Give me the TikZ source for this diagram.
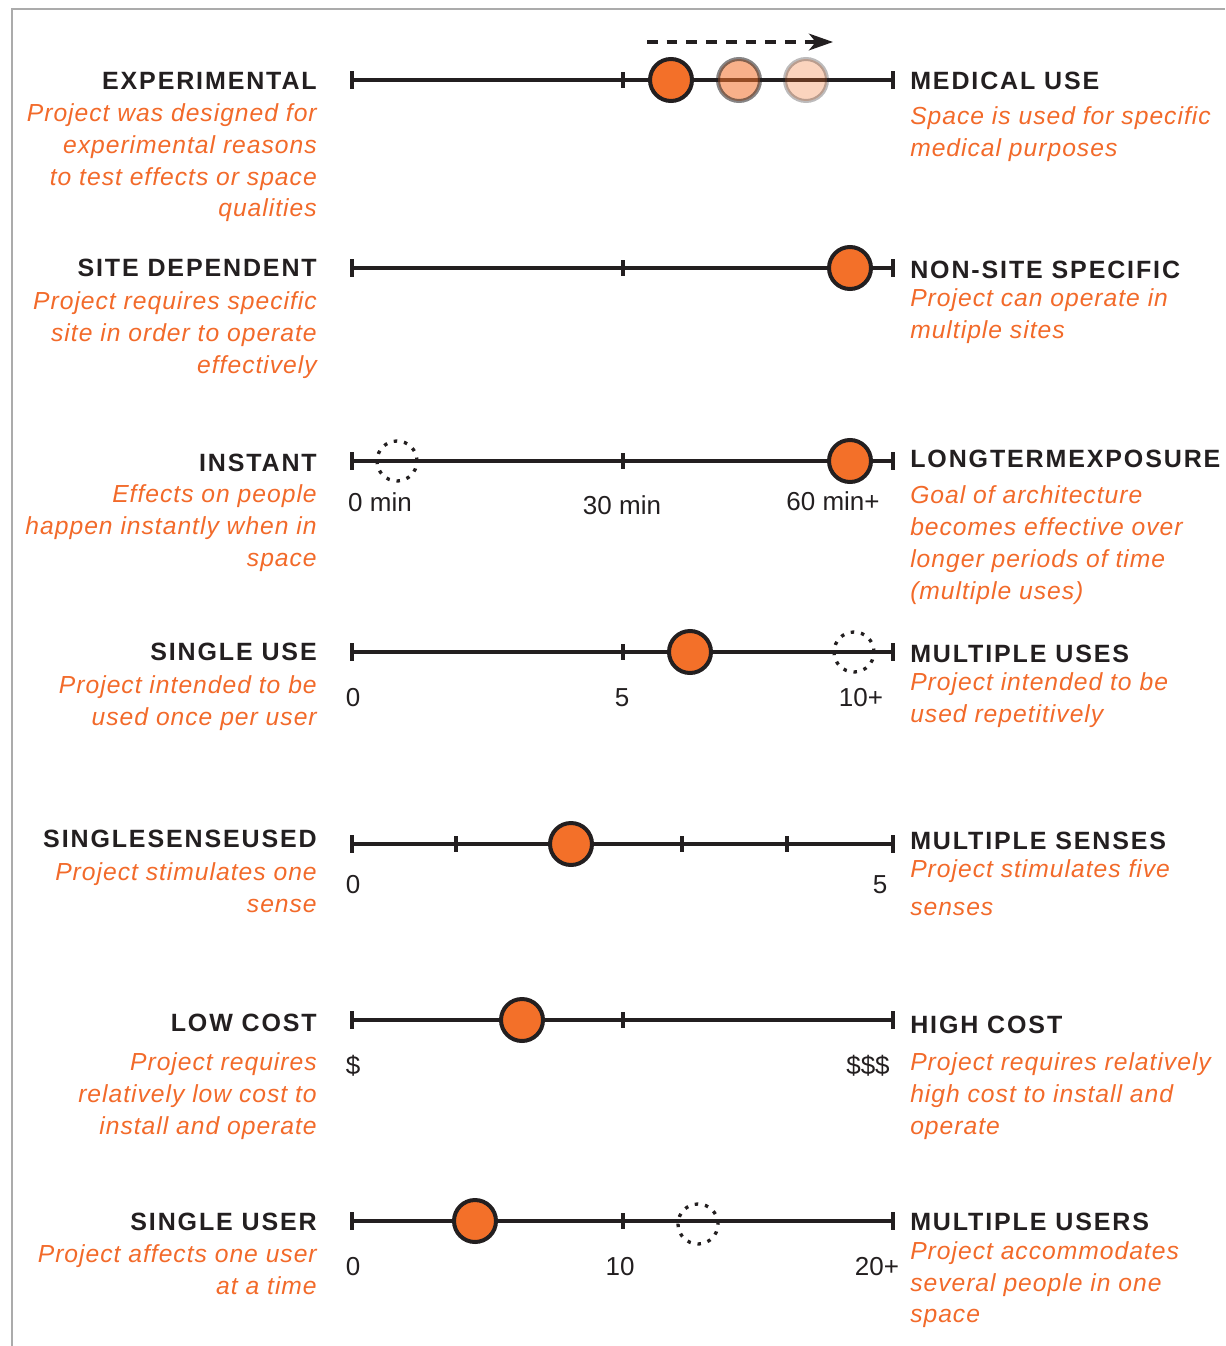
\documentclass[tikz,border=0pt]{standalone}
\usepackage{fontspec}
\setmainfont{Liberation Sans}
\newfontfamily\headfont{Liberation Sans}[LetterSpace=7.5]
\newfontfamily\descfont{Liberation Sans}[LetterSpace=4]
\usetikzlibrary{arrows.meta}
\definecolor{ink}{HTML}{231F20}
\definecolor{orng}{HTML}{F26A2A}
\definecolor{dotfill}{HTML}{F37029}
\definecolor{frame}{HTML}{ABABAB}
\tikzset{
  head/.style={font=\headfont\bfseries\fontsize{18.75}{22}\selectfont, text=ink, inner sep=0pt},
  hl/.style={head, anchor=base east},
  hr/.style={head, anchor=base west},
  desc/.style={font=\descfont\itshape\fontsize{18.5}{22}\selectfont, text=orng, inner sep=0pt},
  dl/.style={desc, anchor=base east},
  dr/.style={desc, anchor=base west},
  num/.style={font=\fontsize{19.5}{23}\selectfont, text=ink, inner sep=0pt, anchor=base},
  scaleline/.style={draw=ink, line width=3.3pt},
  endbar/.style={draw=ink, line width=3.2pt},
  midtick/.style={draw=ink, line width=2.8pt},
  dot/.style={circle, draw=ink, fill=dotfill, line width=3pt, minimum size=31.5pt, inner sep=0pt},
  ghost/.style={dot, opacity=#1},
  ring/.style={circle, draw=ink, line width=2.5pt, dash pattern=on 2.6pt off 5.2pt, minimum size=30pt, inner sep=0pt},
  frameline/.style={draw=frame, line width=1.2pt}
}
\begin{document}
\begin{tikzpicture}[x=0.75pt, y=-0.75pt]
\useasboundingbox (0,0) rectangle (1225,1346);
\draw[frameline] (12,1346) -- (12,9) -- (1225,9);

% Row 1
\coordinate (a1) at (352,80); \coordinate (b1) at (893,80);
\draw[scaleline] (a1) -- (b1);
\draw[endbar] (352,71) -- (352,89); \draw[endbar] (893,71) -- (893,89);
\draw[midtick] (623,72) -- (623,88);
\node[ghost=0.3] (g2) at (806,80) {};
\node[ghost=0.55] (g1) at (739,80) {};
\node[dot] (c1) at (671,80) {};
\coordinate (arS) at (647,42); \coordinate (arE) at (833,42);
\draw[ink, line width=2.4pt, dash pattern=on 8pt off 6.8pt, -{Stealth[length=18pt, width=12.5pt, inset=5pt]}] (arS) -- (arE);
\node[hl] (h1l) at (317,89) {EXPERIMENTAL};
\node[dl] (d1l1) at (317,121) {Project was designed for};
\node[dl] (d1l2) at (317,153) {experimental reasons};
\node[dl] (d1l3) at (317,185) {to test effects or space};
\node[dl] (d1l4) at (317,216) {qualities};
\node[hr] (h1r) at (910,89) {MEDICAL USE};
\node[dr] (d1r1) at (910,124) {Space is used for specific};
\node[dr] (d1r2) at (910,156) {medical purposes};

% Row 2
\coordinate (a2) at (352,268); \coordinate (b2) at (893,268);
\draw[scaleline] (a2) -- (b2);
\draw[endbar] (352,259) -- (352,277); \draw[endbar] (893,259) -- (893,277);
\draw[midtick] (623,260) -- (623,276);
\node[dot] (c2) at (850,268) {};
\node[hl] (h2l) at (317,276) {SITE DEPENDENT};
\node[dl] (d2l1) at (317,309) {Project requires specific};
\node[dl] (d2l2) at (317,341) {site in order to operate};
\node[dl] (d2l3) at (317,373) {effectively};
\node[hr] (h2r) at (910,278) {NON-SITE SPECIFIC};
\node[dr] (d2r1) at (910,306) {Project can operate in};
\node[dr] (d2r2) at (910,338) {multiple sites};

% Row 3
\coordinate (a3) at (352,461); \coordinate (b3) at (893,461);
\draw[scaleline] (a3) -- (b3);
\draw[endbar] (352,452) -- (352,470); \draw[endbar] (893,452) -- (893,470);
\draw[midtick] (623,453) -- (623,469);
\node[ring] (r3) at (397,461) {};
\node[dot] (c3) at (850,461) {};
\node[num] (n3a) at (380,511) {0 min};
\node[num] (n3b) at (622,514) {30 min};
\node[num] (n3c) at (833,510) {60 min+};
\node[hl] (h3l) at (317,471) {INSTANT};
\node[dl] (d3l1) at (317,502) {Effects on people};
\node[dl] (d3l2) at (317,534) {happen instantly when in};
\node[dl] (d3l3) at (317,566) {space};
\node[hr] (h3r) at (910,467) {LONGTERMEXPOSURE};
\node[dr] (d3r1) at (910,503) {Goal of architecture};
\node[dr] (d3r2) at (910,535) {becomes effective over};
\node[dr] (d3r3) at (910,567) {longer periods of time};
\node[dr] (d3r4) at (910,599) {(multiple uses)};

% Row 4
\coordinate (a4) at (352,652); \coordinate (b4) at (893,652);
\draw[scaleline] (a4) -- (b4);
\draw[endbar] (352,643) -- (352,661); \draw[endbar] (893,643) -- (893,661);
\draw[midtick] (623,644) -- (623,660);
\node[ring] (r4) at (854,652) {};
\node[dot] (c4) at (690,652) {};
\node[num] (n4a) at (353,706) {0};
\node[num] (n4b) at (622,706) {5};
\node[num] (n4c) at (861,706) {10+};
\node[hl] (h4l) at (317,660) {SINGLE USE};
\node[dl] (d4l1) at (317,693) {Project intended to be};
\node[dl] (d4l2) at (317,725) {used once per user};
\node[hr] (h4r) at (910,662) {MULTIPLE USES};
\node[dr] (d4r1) at (910,690) {Project intended to be};
\node[dr] (d4r2) at (910,722) {used repetitively};

% Row 5
\coordinate (a5) at (352,844); \coordinate (b5) at (893,844);
\draw[scaleline] (a5) -- (b5);
\draw[endbar] (352,835) -- (352,853); \draw[endbar] (893,835) -- (893,853);
\draw[midtick] (456,836) -- (456,852);
\draw[midtick] (569,836) -- (569,852);
\draw[midtick] (682,836) -- (682,852);
\draw[midtick] (787,836) -- (787,852);
\node[dot] (c5) at (571,844) {};
\node[num] (n5a) at (353,893) {0};
\node[num] (n5b) at (880,893) {5};
\node[hl] (h5l) at (317,847) {SINGLESENSEUSED};
\node[dl] (d5l1) at (317,880) {Project stimulates one};
\node[dl] (d5l2) at (317,912) {sense};
\node[hr] (h5r) at (910,849) {MULTIPLE SENSES};
\node[dr] (d5r1) at (910,877) {Project stimulates five};
\node[dr] (d5r2) at (910,915) {senses};

% Row 6
\coordinate (a6) at (352,1020); \coordinate (b6) at (893,1020);
\draw[scaleline] (a6) -- (b6);
\draw[endbar] (352,1011) -- (352,1029); \draw[endbar] (893,1011) -- (893,1029);
\draw[midtick] (623,1012) -- (623,1028);
\node[dot] (c6) at (522,1020) {};
\node[num] (n6a) at (353,1074) {\$};
\node[num] (n6b) at (868,1074) {\$\$\$};
\node[hl] (h6l) at (317,1031) {LOW COST};
\node[dl] (d6l1) at (317,1070) {Project requires};
\node[dl] (d6l2) at (317,1102) {relatively low cost to};
\node[dl] (d6l3) at (317,1134) {install and operate};
\node[hr] (h6r) at (910,1033) {HIGH COST};
\node[dr] (d6r1) at (910,1070) {Project requires relatively};
\node[dr] (d6r2) at (910,1102) {high cost to install and};
\node[dr] (d6r3) at (910,1134) {operate};

% Row 7
\coordinate (a7) at (352,1221); \coordinate (b7) at (893,1221);
\draw[scaleline] (a7) -- (b7);
\draw[endbar] (352,1212) -- (352,1230); \draw[endbar] (893,1212) -- (893,1230);
\draw[midtick] (623,1213) -- (623,1229);
\node[ring] (r7) at (698,1224) {};
\node[dot] (c7) at (475,1221) {};
\node[num] (n7a) at (353,1275) {0};
\node[num] (n7b) at (620,1275) {10};
\node[num] (n7c) at (877,1275) {20+};
\node[hl] (h7l) at (317,1230) {SINGLE USER};
\node[dl] (d7l1) at (317,1262) {Project affects one user};
\node[dl] (d7l2) at (317,1294) {at a time};
\node[hr] (h7r) at (910,1230) {MULTIPLE USERS};
\node[dr] (d7r1) at (910,1259) {Project accommodates};
\node[dr] (d7r2) at (910,1291) {several people in one};
\node[dr] (d7r3) at (910,1322) {space};
\end{tikzpicture}
\end{document}
